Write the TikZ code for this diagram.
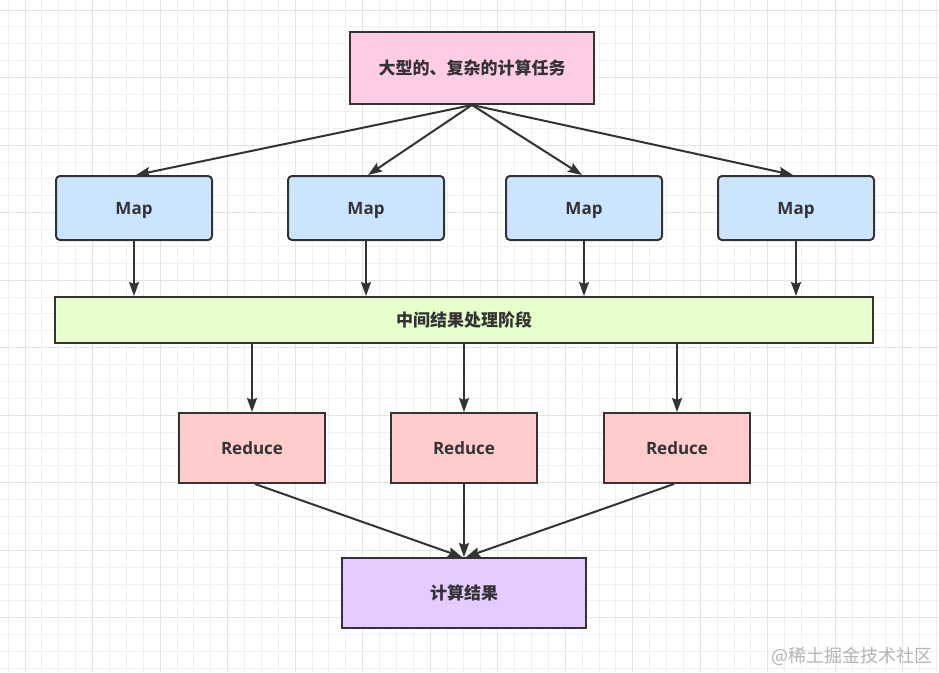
\documentclass[tikz,border=0pt]{standalone}
\usepackage{fontspec}
\setmainfont{Open Sans}
\newfontfamily\cjk{Noto Sans CJK SC}
\usetikzlibrary{arrows.meta,calc}
\definecolor{gridminor}{HTML}{F0F0F0}
\definecolor{gridmajor}{HTML}{E4E4E4}
\definecolor{edgec}{HTML}{333333}
\definecolor{txtc}{HTML}{333333}
\definecolor{pinkf}{HTML}{FFCCE6}
\definecolor{bluef}{HTML}{CCE5FF}
\definecolor{greenf}{HTML}{E6FFCC}
\definecolor{redf}{HTML}{FFCCCC}
\definecolor{purplef}{HTML}{E5CCFF}
\definecolor{wmark}{HTML}{B4B4B4}
\tikzset{
  box/.style={draw=edgec, line width=2pt, text=txtc, inner sep=0pt, text height=12.2pt, text depth=0pt, font=\fontsize{17}{20}\selectfont\bfseries},
  cjkbox/.style={box, font=\fontsize{17}{20}\selectfont\cjk\bfseries},
  mapbox/.style={box, fill=bluef, rounded corners=4pt, minimum width=156pt, minimum height=64pt},
  redbox/.style={box, fill=redf, minimum width=146pt, minimum height=70pt},
  conn/.style={draw=edgec, line width=2pt, -{Stealth[length=14pt,width=10pt,inset=2pt]}},
}
\begin{document}
\begin{tikzpicture}[x=1pt,y=-1pt]
\useasboundingbox (0,0) rectangle (939,672);
\fill[white] (0,0) rectangle (939,672);
% grid
\foreach \i in {0,...,55} {
  \pgfmathsetmacro{\xx}{8.1+\i*16.88}
  \draw[gridminor, line width=0.8pt] (\xx,0) -- (\xx,672);
}
\foreach \i in {0,...,39} {
  \pgfmathsetmacro{\yy}{10+\i*16.88}
  \draw[gridminor, line width=0.8pt] (0,\yy) -- (939,\yy);
}
\foreach \i in {0,...,13} {
  \pgfmathsetmacro{\xx}{25+\i*67.52}
  \draw[gridmajor, line width=1pt] (\xx,0) -- (\xx,672);
}
\foreach \i in {0,...,9} {
  \pgfmathsetmacro{\yy}{10+\i*67.52}
  \draw[gridmajor, line width=1pt] (0,\yy) -- (939,\yy);
}
% nodes
\node[cjkbox, fill=pinkf, minimum width=244pt, minimum height=72pt] (top) at (472,68) {大型的、复杂的计算任务};
\node[mapbox] (m1) at (134,208) {Map};
\node[mapbox] (m2) at (366,208) {Map};
\node[mapbox] (m3) at (584,208) {Map};
\node[mapbox] (m4) at (796,208) {Map};
\node[cjkbox, fill=greenf, minimum width=818pt, minimum height=46pt] (mid) at (464,320) {中间结果处理阶段};
\node[redbox] (r1) at (252,448) {Reduce};
\node[redbox] (r2) at (464,448) {Reduce};
\node[redbox] (r3) at (677,448) {Reduce};
\node[cjkbox, fill=purplef, minimum width=244pt, minimum height=70pt] (res) at (464,593) {计算结果};
\node[text=wmark, font=\fontsize{18}{20}\selectfont\cjk, inner sep=0pt] (wm) at (852,656) {@稀土掘金技术社区};
% connectors
\draw[conn] (top.south) -- ([xshift=2pt]m1.north);
\draw[conn] (top.south) -- ([xshift=2pt]m2.north);
\draw[conn] (top.south) -- ([xshift=-2pt]m3.north);
\draw[conn] (top.south) -- ([xshift=-3pt]m4.north);
\foreach \m in {m1,m2,m3,m4} {
  \draw[conn] (\m.south) -- (\m.south |- mid.north);
}
\foreach \r in {r1,r2,r3} {
  \draw[conn] (mid.south -| \r.north) -- (\r.north);
}
\draw[conn] ([xshift=3pt]r1.south) -- ([xshift=-2pt]res.north);
\draw[conn] (r2.south) -- (res.north);
\draw[conn] ([xshift=-3pt]r3.south) -- ([xshift=2pt]res.north);
\end{tikzpicture}
\end{document}
